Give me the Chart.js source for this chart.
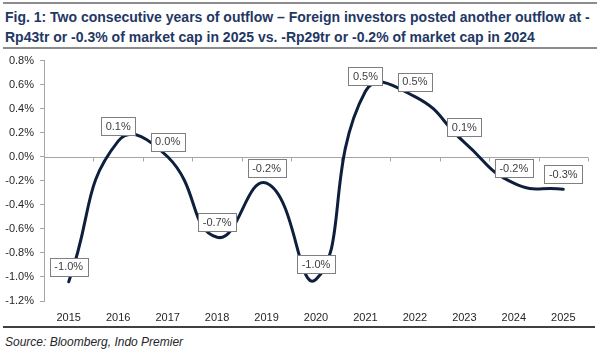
<!DOCTYPE html>
<html>
<head>
<meta charset="utf-8">
<script src="https://cdn.jsdelivr.net/npm/chart.js@4/dist/chart.umd.min.js"></script>
<style>
  html, body { margin: 0; padding: 0; background: #ffffff; }
  body { width: 600px; height: 350px; position: relative; overflow: hidden; font-family: Arial, "Liberation Sans", sans-serif; }
  .rule { position: absolute; left: 3px; width: 594px; height: 2px; background: #8c8c8c; }
  #title { position: absolute; left: 5px; top: 7px; font-weight: bold; font-size: 14px; line-height: 20px; color: #1f3864; white-space: nowrap; }
  #chartBox { position: absolute; left: 0; top: 48px; width: 600px; height: 277px; }
  #source { position: absolute; left: 5px; top: 334px; font-style: italic; font-size: 12px; line-height: 16px; color: #262626; white-space: nowrap; }
</style>
</head>
<body>
<div class="rule" style="top:2px"></div>
<div id="title">Fig. 1: Two consecutive years of outflow – Foreign investors posted another outflow at -<br>Rp43tr or -0.3% of market cap in 2025 vs. -Rp29tr or -0.2% of market cap in 2024</div>
<div class="rule" style="top:47px"></div>
<div id="chartBox"><canvas id="c" width="600" height="277"></canvas></div>
<div class="rule" style="top:326px; background:#404040; width:592px"></div>
<div id="source">Source: Bloomberg, Indo Premier</div>
<script>
const years = ['2015','2016','2017','2018','2019','2020','2021','2022','2023','2024','2025'];
const flowPctMcap = [-1.04, 0.13, 0.0, -0.67, -0.22, -1.02, 0.545, 0.50, 0.12, -0.22, -0.27];
const yMin = -1.2, yMax = 0.8, yStep = 0.2;

const fmtPct = v => (Math.round(v * 10) / 10).toFixed(1).replace('-0.0', '0.0') + '%';

const zeroAxisPlugin = {
  id: 'zeroAxis',
  beforeDatasetsDraw(chart) {
    const { ctx, scales: { x, y }, chartArea } = chart;
    const y0 = Math.round(y.getPixelForValue(0)) + 0.5;
    ctx.save();
    ctx.strokeStyle = '#a6a6a6';
    ctx.lineWidth = 1;
    ctx.beginPath();
    ctx.moveTo(chartArea.left, y0);
    ctx.lineTo(chartArea.right, y0);
    const n = years.length;
    const step = (x.getPixelForValue(n - 1) - x.getPixelForValue(0)) / (n - 1);
    for (let i = 0; i < n; i++) {
      const bx = Math.round(x.getPixelForValue(i) + step / 2) + 0.5;
      ctx.moveTo(bx, y0);
      ctx.lineTo(bx, y0 + 4);
    }
    ctx.stroke();
    ctx.restore();
  }
};

const labelPlugin = {
  id: 'boxLabels',
  afterDatasetsDraw(chart) {
    const { ctx } = chart;
    const meta = chart.getDatasetMeta(0);
    ctx.save();
    ctx.font = '11px Arial, "Liberation Sans", sans-serif';
    ctx.textAlign = 'center';
    ctx.textBaseline = 'middle';
    meta.data.forEach((pt, i) => {
      const txt = fmtPct(flowPctMcap[i]);
      const w = Math.round(ctx.measureText(txt).width) + 9;
      const h = 18;
      const cx = pt.x, cy = pt.y - 15;
      const bx = Math.round(cx - w / 2) + 0.5, by = Math.round(cy - h / 2) + 0.5;
      ctx.fillStyle = '#ffffff';
      ctx.fillRect(bx, by, w, h);
      ctx.strokeStyle = '#7f7f7f';
      ctx.lineWidth = 1;
      ctx.strokeRect(bx, by, w, h);
      ctx.fillStyle = '#404040';
      ctx.fillText(txt, cx, cy + 0.5);
    });
    ctx.restore();
  }
};

new Chart(document.getElementById('c'), {
  type: 'line',
  data: {
    labels: years,
    datasets: [{
      data: flowPctMcap,
      borderColor: '#0d1f3d',
      borderWidth: 3,
      pointRadius: 0,
      tension: 0.5,
      fill: false,
      borderCapStyle: 'round'
    }]
  },
  options: {
    responsive: false,
    animation: false,
    devicePixelRatio: 1,
    layout: { padding: { top: 0, right: 12, left: 0, bottom: 0 } },
    plugins: { legend: { display: false }, title: { display: false }, tooltip: { enabled: false } },
    scales: {
      x: {
        type: 'category',
        offset: true,
        grid: { display: false, drawTicks: false },
        border: { display: false },
        ticks: { color: '#262626', font: { size: 11, family: 'Arial' }, padding: 10, maxRotation: 0, autoSkip: false },
        afterFit(s) { s.height = 24; }
      },
      y: {
        min: yMin, max: yMax,
        grid: { display: true, drawOnChartArea: false, drawTicks: true, tickLength: 4, color: '#a6a6a6' },
        border: { display: true, color: '#a6a6a6' },
        ticks: { stepSize: yStep, color: '#262626', font: { size: 11, family: 'Arial' }, padding: 6,
          callback: v => v.toFixed(1) + '%' },
        afterFit(s) { s.width = 44; }
      }
    }
  },
  plugins: [zeroAxisPlugin, labelPlugin]
});
</script>
</body>
</html>
